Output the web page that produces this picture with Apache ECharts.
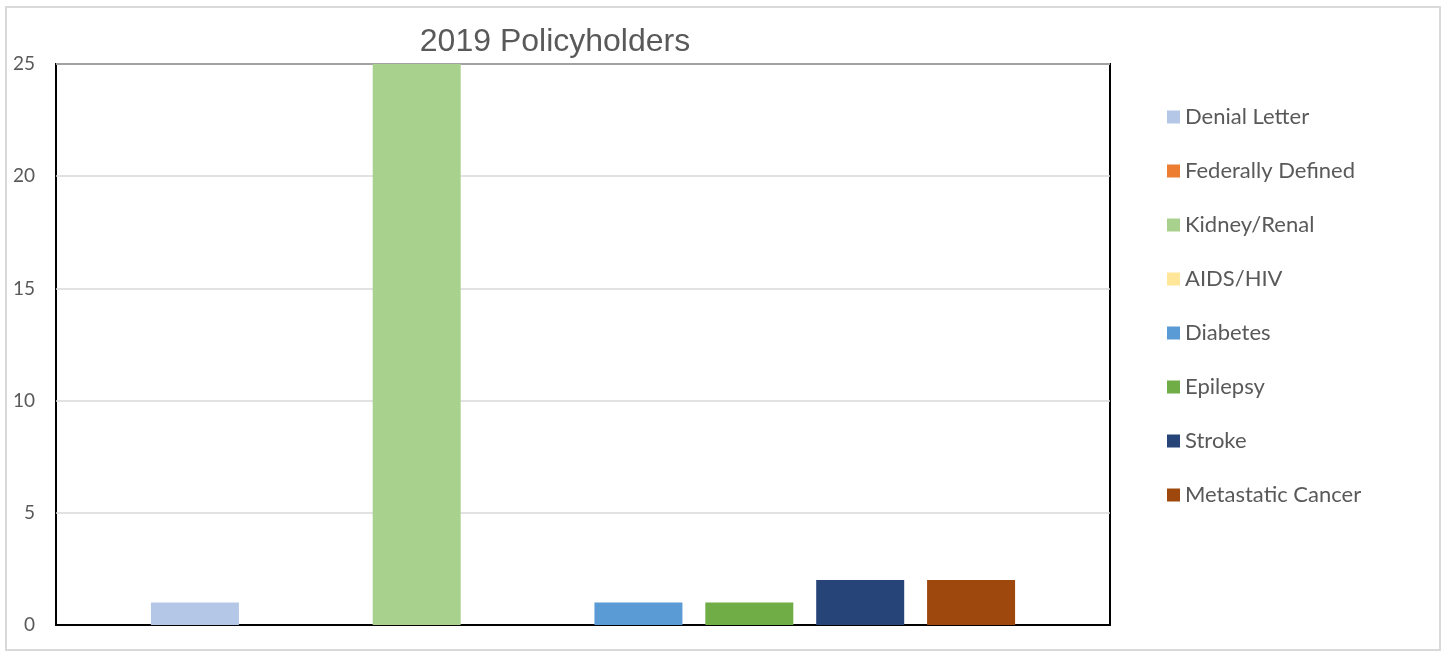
<!DOCTYPE html>
<html>
<head>
<meta charset="utf-8">
<script src="https://cdn.jsdelivr.net/npm/echarts@6/dist/echarts.min.js"></script>
<style>
  html, body { margin: 0; padding: 0; background: #fff; }
  #chart { width: 1444px; height: 652px; }
</style>
</head>
<body>
<div id="chart"></div>
<script>
// 2019 policyholders by condition
const categories = ['2019'];
const seriesNames = ['Denial Letter', 'Federally Defined', 'Kidney/Renal', 'AIDS/HIV',
                     'Diabetes', 'Epilepsy', 'Stroke', 'Metastatic Cancer'];
const seriesValues = [1, 0, 25, 0, 1, 1, 2, 2];
const seriesColors = ['#b4c7e7', '#ed7d31', '#a9d18e', '#ffe699',
                      '#5b9bd5', '#70ad47', '#264478', '#9e480e'];
const yTicks = { min: 0, max: 25, interval: 5 };

const chart = echarts.init(document.getElementById('chart'));

const series = seriesNames.map((name, i) => ({
  name: name,
  type: 'bar',
  data: [seriesValues[i]],
  barWidth: 88,
  barGap: '26%',
  itemStyle: { color: seriesColors[i] }
}));

chart.setOption({
  animation: false,
  backgroundColor: '#fff',
  title: {
    text: '2019 Policyholders',
    left: 550,
    top: 21,
    textAlign: 'center',
    textStyle: { fontFamily: 'Liberation Sans', fontSize: 32, fontWeight: 'normal', color: '#595959' }
  },
  legend: {
    orient: 'vertical',
    left: 1162,
    top: 101,
    icon: 'rect',
    itemWidth: 13,
    itemHeight: 13,
    itemGap: 32,
    data: seriesNames,
    textStyle: { fontFamily: 'Lato', fontSize: 22, color: '#595959' }
  },
  grid: {
    left: 56, top: 64, right: 334, bottom: 27,
    show: true, borderColor: '#000', borderWidth: 2, containLabel: false
  },
  xAxis: {
    type: 'category',
    data: categories,
    axisLine: { show: true, lineStyle: { color: '#000', width: 2 } },
    axisTick: { show: false },
    axisLabel: { show: false }
  },
  yAxis: {
    type: 'value',
    min: yTicks.min, max: yTicks.max, interval: yTicks.interval,
    axisLine: { show: false },
    axisTick: { show: false },
    axisLabel: { margin: 21, fontFamily: 'Lato', fontSize: 19, color: '#595959' },
    splitLine: { lineStyle: { color: '#d9d9d9', width: 1.5 } }
  },
  graphic: [{
    type: 'rect',
    shape: { x: 6, y: 7, width: 1434, height: 643 },
    style: { fill: 'none', stroke: '#d9d9d9', lineWidth: 2 },
    silent: true
  }],
  series: series
});
</script>
</body>
</html>
